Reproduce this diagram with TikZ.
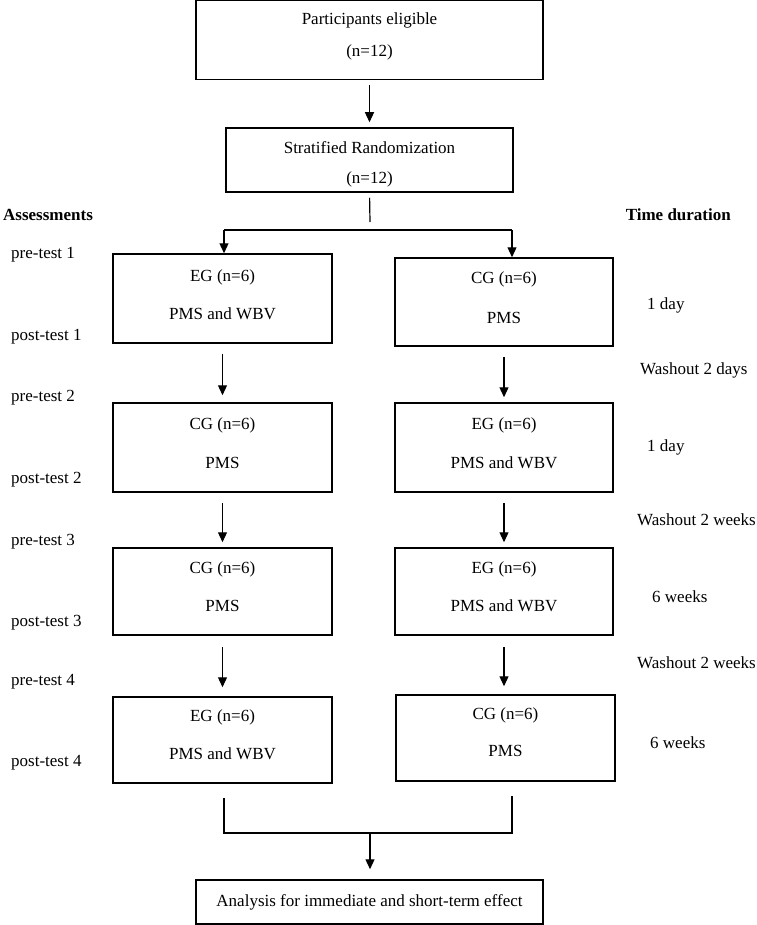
\documentclass[tikz,border=0pt]{standalone}
\usepackage{fontspec}
\setmainfont{Liberation Serif}
\usetikzlibrary{arrows.meta}
\newcommand{\twolines}[4]{\raisebox{#1}[0pt][0pt]{\begin{tabular}[t]{@{}c@{}}#2\\[#3]#4\end{tabular}}}
\begin{document}
\begin{tikzpicture}[x=1pt,y=-1pt,
  txt/.style={font=\fontsize{17}{20}\selectfont},
  box/.style={draw, line width=1.5pt, align=center, inner sep=0pt, txt},
  lbl/.style={anchor=west, inner sep=0pt, txt},
  hd/.style={anchor=west, inner sep=0pt, font=\fontsize{17}{20}\selectfont\bfseries},
  conn/.style={line width=1.2pt},
  arr/.style={conn, -{Triangle[length=10pt,width=9pt]}}]
\useasboundingbox (0,0) rectangle (756,925);

% boxes
\node[box, minimum width=347pt, minimum height=79pt] (elig) at (369.5,40) {\twolines{15pt}{Participants eligible}{12pt}{(n=12)}};
\node[box, minimum width=287pt, minimum height=64pt] (rand) at (369.5,160) {\twolines{6pt}{Stratified Randomization}{10pt}{(n=12)}};

\node[box, minimum width=219pt, minimum height=89pt] (eg1) at (222.5,298.5) {\twolines{17.5pt}{EG (n=6)}{18pt}{PMS and WBV}};
\node[box, minimum width=218pt, minimum height=88pt] (cg1) at (504,302) {\twolines{19pt}{CG (n=6)}{20pt}{PMS}};

\node[box, minimum width=219pt, minimum height=89pt] (cg2) at (222.5,447.5) {\twolines{18.5pt}{CG (n=6)}{19pt}{PMS}};
\node[box, minimum width=218pt, minimum height=89pt] (eg2) at (504,447.5) {\twolines{18.5pt}{EG (n=6)}{19pt}{PMS and WBV}};

\node[box, minimum width=219pt, minimum height=87pt] (cg3) at (222.5,591.5) {\twolines{18.5pt}{CG (n=6)}{18pt}{PMS}};
\node[box, minimum width=218pt, minimum height=87pt] (eg3) at (504,591.5) {\twolines{18.5pt}{EG (n=6)}{18pt}{PMS and WBV}};

\node[box, minimum width=219pt, minimum height=86pt] (eg4) at (222.5,740) {\twolines{19pt}{EG (n=6)}{18pt}{PMS and WBV}};
\node[box, minimum width=219pt, minimum height=86pt] (cg4) at (505.5,738) {\twolines{19pt}{CG (n=6)}{17pt}{PMS}};

\node[box, minimum width=347pt, minimum height=44pt] (final) at (369.5,902) {Analysis for immediate and short-term effect};

% headings
\node[hd] (assess) at (3,215) {Assessments};
\node[hd, anchor=east] (timedur) at (731,215) {Time duration};

% assessment labels
\node[lbl] (pre1) at (11,255) {pre-test 1};
\node[lbl] (post1) at (11,337) {post-test 1};
\node[lbl] (pre2) at (11,398) {pre-test 2};
\node[lbl] (post2) at (11,480) {post-test 2};
\node[lbl] (pre3) at (11,542) {pre-test 3};
\node[lbl] (post3) at (11,623) {post-test 3};
\node[lbl] (pre4) at (11,682) {pre-test 4};
\node[lbl] (post4) at (11,763) {post-test 4};

% durations
\node[lbl] (d1) at (647,305) {1 day};
\node[lbl] (w1) at (640,370) {Washout 2 days};
\node[lbl] (d2) at (647,447) {1 day};
\node[lbl] (w2) at (637,520) {Washout 2 weeks};
\node[lbl] (d3) at (652,597) {6 weeks};
\node[lbl] (w3) at (637,663) {Washout 2 weeks};
\node[lbl] (d4) at (650,743) {6 weeks};

% connectors
\draw[arr, shorten <=5pt, shorten >=5pt] (elig.south) -- (elig.south |- rand.north);

\coordinate (split) at (370,222);
\coordinate (sL) at (224,230);
\coordinate (sR) at (512,230);
\draw[conn, shorten <=5pt] (rand.south) -- (split);
\draw[conn] (sL) -- (sR);
\draw[arr] (sL) -- (sL |- eg1.north);
\draw[arr] (sR) -- (sR |- cg1.north);

\draw[arr, shorten <=10pt, shorten >=7pt] (eg1.south) -- (cg2.north);
\draw[arr, shorten <=10pt, shorten >=5pt] (cg1.south) -- (eg2.north);
\draw[arr, shorten <=10pt, shorten >=5pt] (cg2.south) -- (cg3.north);
\draw[arr, shorten <=10pt, shorten >=5pt] (eg2.south) -- (eg3.north);
\draw[arr, shorten <=11pt, shorten >=9pt] (cg3.south) -- (eg4.north);
\draw[arr, shorten <=11pt, shorten >=8pt] (eg3.south) -- (eg3.south |- cg4.north);

\coordinate (jL) at (224,833);
\coordinate (jR) at (512,833);
\coordinate (jM) at (370,833);
\draw[conn, shorten <=14pt, shorten >=14pt] (jL |- eg4.south) -- (jL) -- (jR) -- (jR |- cg4.south);
\draw[arr, shorten >=10pt] (jM) -- (jM |- final.north);
\end{tikzpicture}
\end{document}
